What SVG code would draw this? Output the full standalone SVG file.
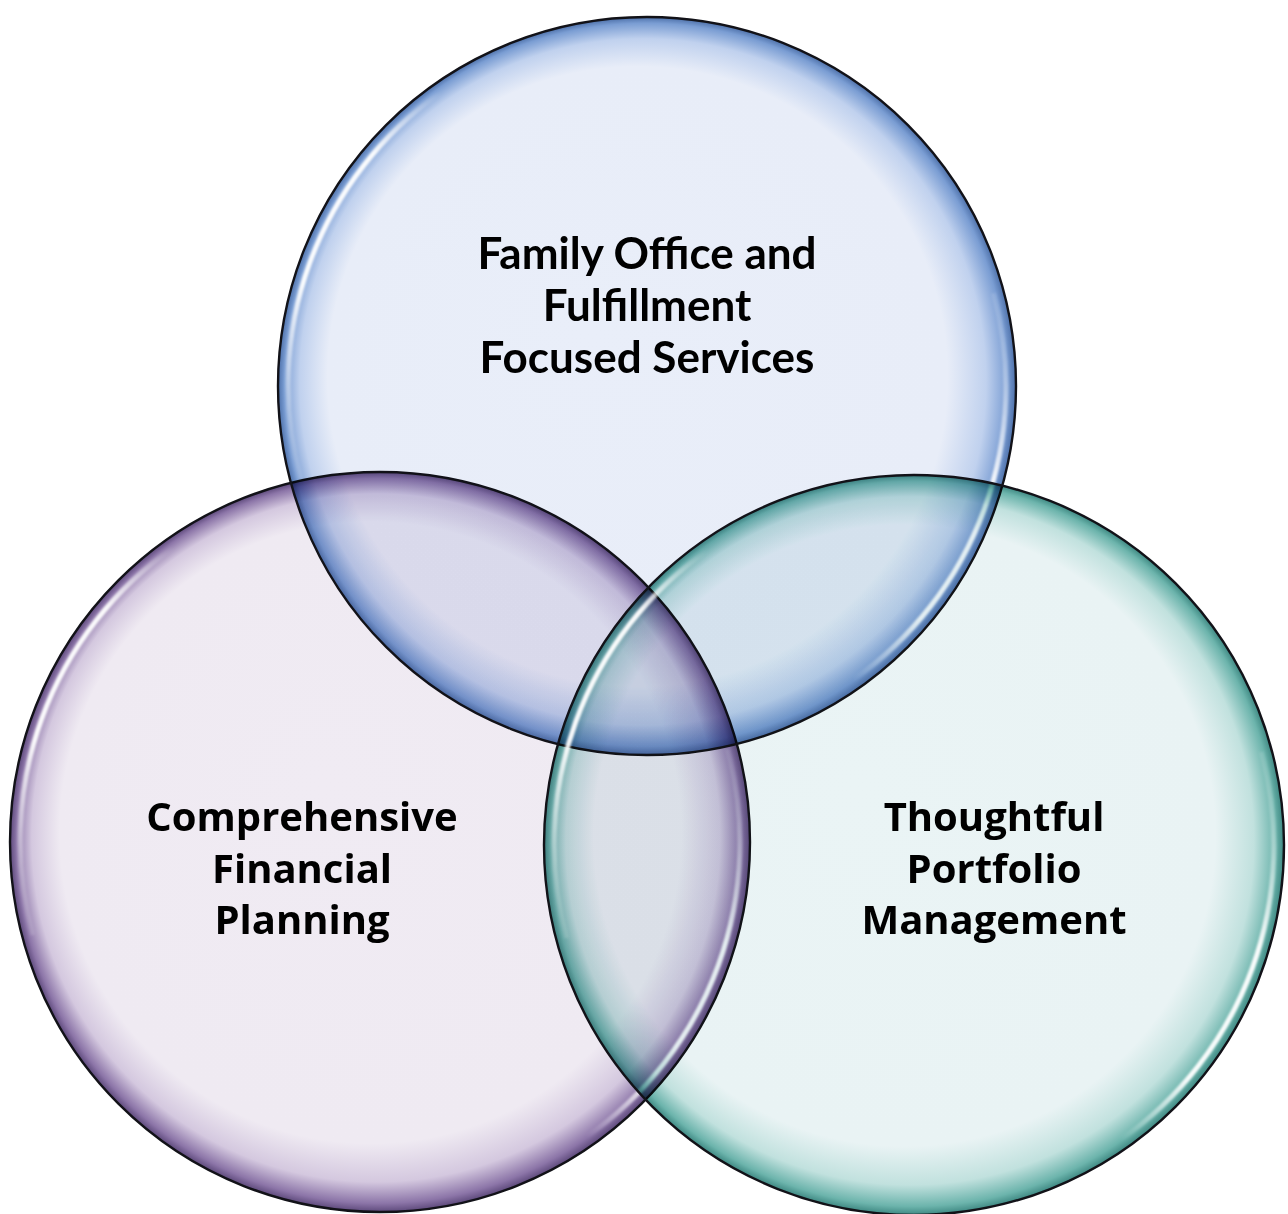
<svg xmlns="http://www.w3.org/2000/svg" width="1288" height="1214" viewBox="0 0 1288 1214">
  <defs>
    <style>
      .fill { mix-blend-mode: multiply; }
      .edge { fill: none; stroke: #121218; stroke-width: 2.4; }
      .shine { fill: none; stroke: url(#shineFade); stroke-width: 5; filter: url(#soft); }
      .lbl { font-weight: 700; fill: #000; text-anchor: middle; }
      .calib { font-family: Lato, "Open Sans", "Liberation Sans", sans-serif; font-size: 44px; }
      .segoe { font-family: "Open Sans", "Noto Sans", "Liberation Sans", sans-serif; font-size: 40px; }
    </style>
    <filter id="soft" x="-10%" y="-10%" width="120%" height="120%">
      <feGaussianBlur stdDeviation="1.2"/>
    </filter>
    <linearGradient id="shineFade" x1="0" y1="1" x2="1" y2="0">
      <stop offset="0" stop-color="#fff" stop-opacity="0"/>
      <stop offset="0.3" stop-color="#fff" stop-opacity="0.95"/>
      <stop offset="0.7" stop-color="#fff" stop-opacity="0.95"/>
      <stop offset="1" stop-color="#fff" stop-opacity="0"/>
    </linearGradient>
    <radialGradient id="gBlue" cx="0.5" cy="0.5" r="0.5" fx="0.42" fy="0.42">
      <stop offset="0" stop-color="#e9eef9"/>
      <stop offset="0.84" stop-color="#e8edf8"/>
      <stop offset="0.93" stop-color="#c0d1ee"/>
      <stop offset="0.98" stop-color="#7a9dd3"/>
      <stop offset="1" stop-color="#4d70a9"/>
    </radialGradient>
    <radialGradient id="gPurple" cx="0.5" cy="0.5" r="0.5" fx="0.42" fy="0.42">
      <stop offset="0" stop-color="#f0ebf3"/>
      <stop offset="0.84" stop-color="#efeaf2"/>
      <stop offset="0.93" stop-color="#d4c8df"/>
      <stop offset="0.98" stop-color="#8c75a8"/>
      <stop offset="1" stop-color="#5d497b"/>
    </radialGradient>
    <radialGradient id="gTeal" cx="0.5" cy="0.5" r="0.5" fx="0.42" fy="0.42">
      <stop offset="0" stop-color="#eaf4f5"/>
      <stop offset="0.84" stop-color="#e9f3f4"/>
      <stop offset="0.93" stop-color="#c1e1de"/>
      <stop offset="0.98" stop-color="#6cb4ac"/>
      <stop offset="1" stop-color="#3e8882"/>
    </radialGradient>
  </defs>

  <rect width="1288" height="1214" fill="#ffffff"/>

  <!-- left set -->
  <g id="node-planning">
    <circle class="fill" cx="380" cy="842" r="370" fill="url(#gPurple)"/>
    <path class="shine" d="M32.3 935.2 A360 360 0 0 1 173.5 547.1"/>
    <path class="shine" d="M727.7 748.8 A360 360 0 0 1 586.5 1136.9"/>
    <circle class="edge" cx="380" cy="842" r="370"/>
    <text class="lbl segoe" x="302" y="831">Comprehensive</text>
    <text class="lbl segoe" x="302" y="883">Financial</text>
    <text class="lbl segoe" x="302" y="934">Planning</text>
  </g>

  <!-- top set -->
  <g id="node-family-office">
    <circle class="fill" cx="647" cy="386" r="369" fill="url(#gBlue)"/>
    <path class="shine" d="M300.2 478.9 A359 359 0 0 1 441.1 91.9"/>
    <path class="shine" d="M993.8 293.1 A359 359 0 0 1 852.9 680.1"/>
    <circle class="edge" cx="647" cy="386" r="369"/>
    <text class="lbl calib" x="647" y="269">Family Office and</text>
    <text class="lbl calib" x="647" y="321">Fulfillment</text>
    <text class="lbl calib" x="647" y="373">Focused Services</text>
  </g>

  <!-- right set -->
  <g id="node-portfolio">
    <circle class="fill" cx="914" cy="845" r="370" fill="url(#gTeal)"/>
    <path class="shine" d="M566.3 938.2 A360 360 0 0 1 707.5 550.1"/>
    <path class="shine" d="M1261.7 751.8 A360 360 0 0 1 1120.5 1139.9"/>
    <circle class="edge" cx="914" cy="845" r="370"/>
    <text class="lbl segoe" x="994" y="831">Thoughtful</text>
    <text class="lbl segoe" x="994" y="883">Portfolio</text>
    <text class="lbl segoe" x="994" y="934">Management</text>
  </g>

  <!-- no connectors in this diagram -->
  <g id="connectors"/>
</svg>
